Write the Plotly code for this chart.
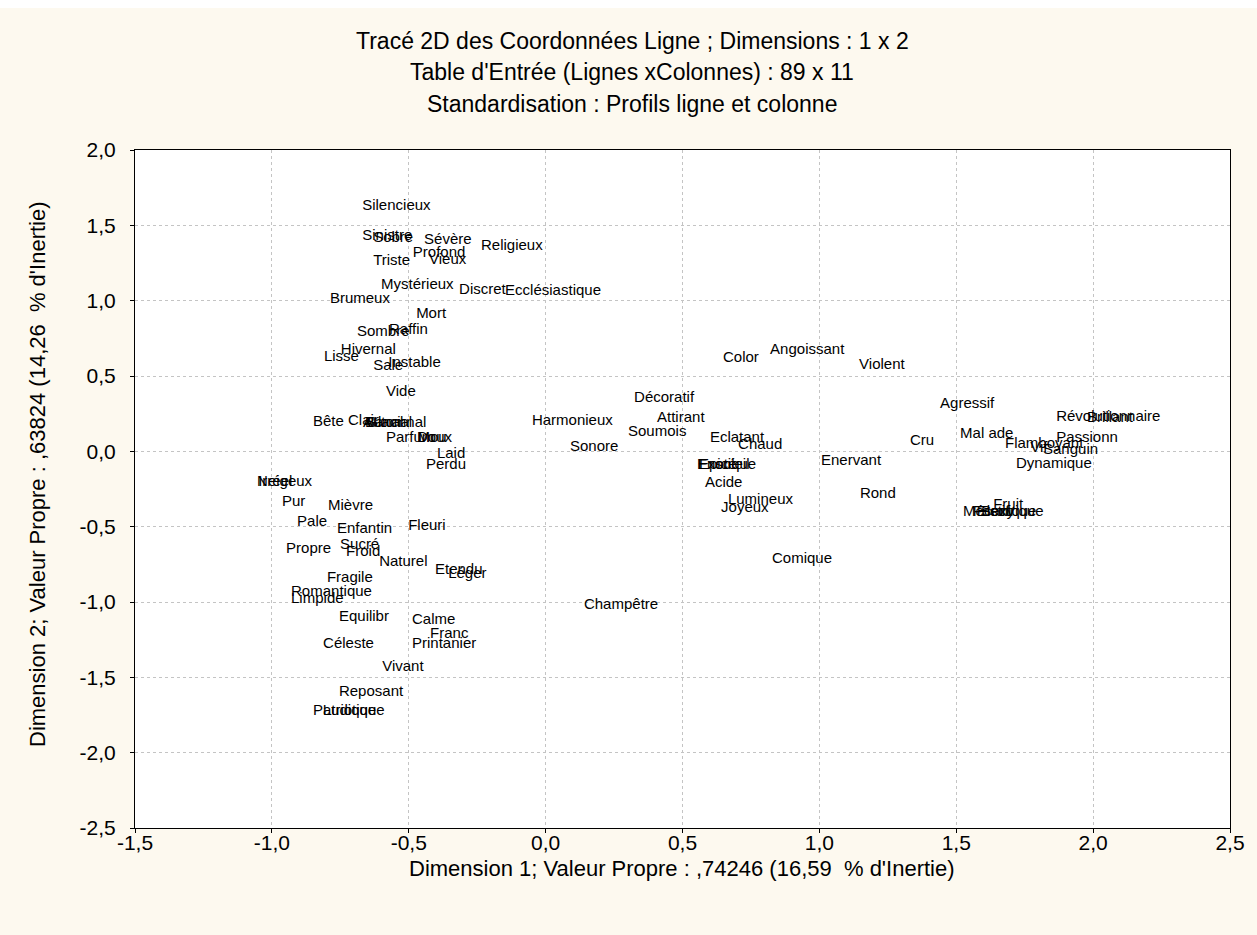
import plotly.graph_objects as go

labels = [
    "Silencieux", "Sinistre", "Sobre", "Sévère", "Religieux", "Profond", "Vieux", "Triste",
    "Mystérieux", "Discret", "Ecclésiastique", "Brumeux", "Mort", "Sombre", "Raffin",
    "Hivernal", "Lisse", "Sale", "Instable", "Vide", "Bête", "Clair", "Automnal", "Banal",
    "Glacial", "Parfum", "Doux", "Mou", "Laid", "Perdu", "Harmonieux", "Sonore", "Soumois",
    "Décoratif", "Attirant", "Eclatant", "Chaud", "Color", "Angoissant", "Violent",
    "Ensoleil", "Exotique", "Epicé", "Acide", "Enervant", "Lumineux", "Joyeux", "Rond",
    "Comique", "Champêtre", "Agressif", "Cru", "Mal ade", "Flamboyant", "Vif", "Sanguin",
    "Passionn", "Dynamique", "Révolutionnaire", "Brillant", "Fruit", "Mécanique", "Festif",
    "Electrique", "Sexy", "Neigeux", "Irréel", "Pur", "Mièvre", "Pale", "Enfantin", "Fleuri",
    "Propre", "Sucré", "Froid", "Naturel", "Etendu", "Léger", "Fragile", "Romantique",
    "Limpide", "Equilibr", "Calme", "Franc", "Printanier", "Céleste", "Vivant", "Reposant",
    "Patriotique", "Ludique",
]
dim1 = [
    -0.670, -0.670, -0.630, -0.444, -0.236, -0.485, -0.426, -0.630,
    -0.601, -0.316, -0.148, -0.788, -0.473, -0.689, -0.572,
    -0.748, -0.810, -0.630, -0.575, -0.583, -0.850, -0.722, -0.667, -0.660,
    -0.655, -0.583, -0.470, -0.468, -0.397, -0.437, -0.050, 0.089, 0.301,
    0.323, 0.407, 0.600, 0.703, 0.648, 0.820, 1.145,
    0.553, 0.556, 0.560, 0.582, 1.006, 0.666, 0.641, 1.148,
    0.827, 0.140, 1.441, 1.331, 1.514, 1.678, 1.770, 1.817,
    1.865, 1.718, 1.865, 1.978, 1.635, 1.525, 1.560,
    1.575, 1.590, -1.054, -1.050, -0.963, -0.795, -0.908, -0.762, -0.502,
    -0.948, -0.751, -0.729, -0.608, -0.404, -0.356, -0.799, -0.930,
    -0.930, -0.755, -0.488, -0.422, -0.488, -0.813, -0.597, -0.755,
    -0.850, -0.814,
]
dim2 = [
    1.626, 1.427, 1.413, 1.400, 1.362, 1.316, 1.270, 1.263,
    1.104, 1.071, 1.064, 1.011, 0.911, 0.792, 0.805,
    0.673, 0.627, 0.567, 0.587, 0.394, 0.195, 0.201, 0.188, 0.188,
    0.188, 0.088, 0.088, 0.088, -0.018, -0.091, 0.201, 0.028, 0.128,
    0.354, 0.221, 0.088, 0.042, 0.620, 0.673, 0.573,
    -0.091, -0.091, -0.091, -0.210, -0.064, -0.323, -0.376, -0.287,
    -0.719, -1.024, 0.314, 0.068, 0.115, 0.049, 0.022, 0.009,
    0.088, -0.084, 0.228, 0.221, -0.357, -0.403, -0.403,
    -0.403, -0.403, -0.204, -0.204, -0.336, -0.363, -0.469, -0.520, -0.494,
    -0.653, -0.626, -0.673, -0.739, -0.792, -0.819, -0.845, -0.938,
    -0.985, -1.098, -1.124, -1.217, -1.283, -1.283, -1.430, -1.596,
    -1.722, -1.722,
]

xticks = [-1.5, -1.0, -0.5, 0.0, 0.5, 1.0, 1.5, 2.0, 2.5]
yticks = [-2.5, -2.0, -1.5, -1.0, -0.5, 0.0, 0.5, 1.0, 1.5, 2.0]
xticktext = ["-1,5", "-1,0", "-0,5", "0,0", "0,5", "1,0", "1,5", "2,0", "2,5"]
yticktext = ["-2,5", "-2,0", "-1,5", "-1,0", "-0,5", "0,0", "0,5", "1,0", "1,5", "2,0"]

titles = [
    "Tracé 2D des Coordonnées Ligne ; Dimensions : 1 x 2",
    "Table d'Entrée (Lignes xColonnes) : 89 x 11",
    "Standardisation : Profils ligne et colonne",
]
xtitle = "Dimension 1; Valeur Propre : ,74246 (16,59  % d'Inertie)"
ytitle = "Dimension 2; Valeur Propre : ,63824 (14,26  % d'Inertie)"

font = "Liberation Sans, Arial, sans-serif"

fig = go.Figure()
fig.add_trace(go.Scatter(
    x=dim1, y=dim2, text=labels, mode="text",
    textposition="middle right",
    textfont=dict(family=font, size=15, color="black"),
    hoverinfo="text", showlegend=False,
))

axis_common = dict(
    showline=True, linecolor="black", linewidth=1, mirror=True,
    ticks="outside", ticklen=4, tickcolor="black",
    showgrid=True, gridcolor="#c4c4c4", griddash="dot", gridwidth=1,
    zeroline=False, tickfont=dict(family=font, size=21, color="black"),
)

# plot area in page pixels: x 135..1230, y 150..828 (figure starts at page y=8)
PL, PR, PT, PB = 135, 1230, 150, 828
W, H = PR - PL, PB - PT

fig.update_layout(
    width=1257, height=927,
    paper_bgcolor="#fdf9ef", plot_bgcolor="white",
    margin=dict(l=PL, r=1257 - PR, t=PT - 8, b=935 - PB),
    xaxis=dict(range=[-1.5, 2.5], tickvals=xticks, ticktext=xticktext,
               ticklabelstandoff=-8, **axis_common),
    yaxis=dict(range=[-2.5, 2.0], tickvals=yticks, ticktext=yticktext,
               ticklabelstandoff=10, **axis_common),
)

for i, (t, py) in enumerate(zip(titles, [41, 72, 104])):
    fig.add_annotation(text=t, xref="paper", yref="paper", x=(632 - PL) / W,
                       xanchor="center", y=(PB - py) / H, yanchor="middle",
                       showarrow=False, font=dict(family=font, size=23, color="black"))

fig.add_annotation(text=xtitle, xref="paper", yref="paper", x=(682 - PL) / W, xanchor="center",
                   y=(PB - 869) / H, yanchor="middle", showarrow=False,
                   font=dict(family=font, size=22, color="black"))
fig.add_annotation(text=ytitle, xref="paper", yref="paper", x=(37 - PL) / W, xanchor="center",
                   y=(PB - 474) / H, yanchor="middle", textangle=-90, showarrow=False,
                   font=dict(family=font, size=22, color="black"))

fig.write_html("out.html", post_script="document.body.style.margin='8px 0 0 0';")
